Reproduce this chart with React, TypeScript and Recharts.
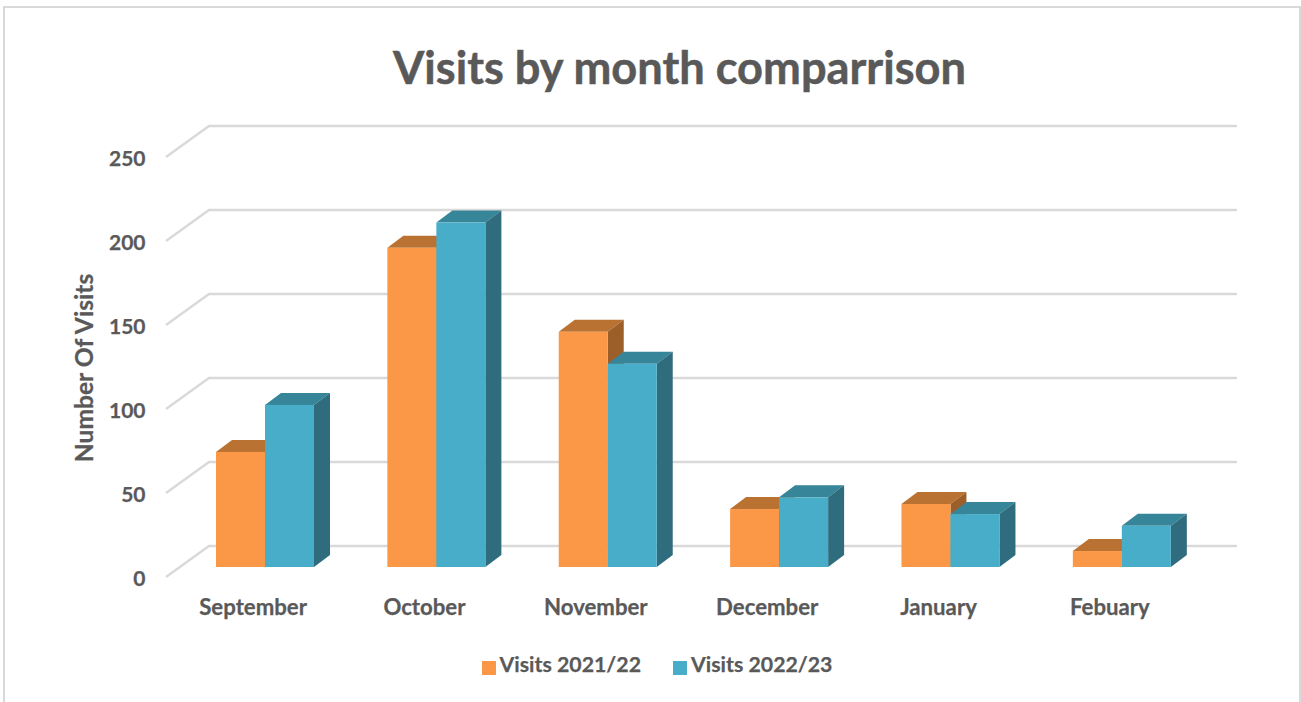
import React from "react";
import { BarChart, Bar, XAxis, YAxis, CartesianGrid, Legend } from "recharts";

const months = ["September", "October", "November", "December", "January", "Febuary"];
const visits2122 = [68.5, 190, 140, 34.5, 37.5, 9.5];
const visits2223 = [96.5, 205, 121, 41.5, 31.5, 24.5];
const yTicks = [0, 50, 100, 150, 200, 250];

const data = months.map((month, i) => ({
  month,
  "Visits 2021/22": visits2122[i],
  "Visits 2022/23": visits2223[i],
}));

const FONT = "Lato, 'Open Sans', sans-serif";
const TEXT = "#595959";
const DX = 16;
const DY = 12;

const makeBar = (front: string, top: string, side: string) => (p: any) => {
  const { x, y, width: w, height: h } = p;
  return (
    <g>
      <polygon points={`${x},${y} ${x + DX},${y - DY} ${x + w + DX},${y - DY} ${x + w},${y}`} fill={top} />
      <polygon points={`${x + w},${y} ${x + w + DX},${y - DY} ${x + w + DX},${y + h - DY} ${x + w},${y + h}`} fill={side} />
      <rect x={x} y={y} width={w} height={h} fill={front} />
    </g>
  );
};

const gridLine = (p: any) => {
  const y = p.y1;
  return (
    <polyline
      key={p.key ?? y}
      points={`166,${y + 10} 209,${y - 21} 1237,${y - 21}`}
      fill="none"
      stroke="#D9D9D9"
      strokeWidth={2.4}
    />
  );
};

const xTick = (p: any) => (
  <text x={p.x - 12} y={p.y} dy={40} textAnchor="middle" fontFamily={FONT} fontWeight={700} fontSize={22.2} fill={TEXT} stroke={TEXT} strokeWidth={0.25}>
    {p.payload.value}
  </text>
);

const yTick = (p: any) => (
  <text x={145.5} y={p.y} dy={19} textAnchor="end" fontFamily={FONT} fontWeight={700} fontSize={21} fill={TEXT} stroke={TEXT} strokeWidth={0.25}>
    {p.payload.value}
  </text>
);

const legendText = (value: string, _e: any, i: number) => (
  <span style={{ color: TEXT, fontFamily: FONT, fontWeight: 700, fontSize: 21.3, WebkitTextStroke: "0.25px #595959", marginRight: i === 0 ? 22 : 0 }}>{value}</span>
);

export default function App() {
  return (
    <div style={{ position: "fixed", left: 0, top: 0, width: 1301, height: 702, background: "#fff", overflow: "hidden" }}>
      <BarChart
        width={1301}
        height={702}
        data={data}
        margin={{ top: 147, right: 93.4, bottom: 95, left: 119.4 }}
        barCategoryGap={36.6}
        barGap={0}
      >
        <rect x={4} y={7} width={1296} height={700} fill="none" stroke="#D9D9D9" strokeWidth={2} />
        <text x={679.5} y={84} textAnchor="middle" fontFamily={FONT} fontWeight={700} fontSize={45.2} fill={TEXT} stroke={TEXT} strokeWidth={0.5}>
          Visits by month comparrison
        </text>
        <text
          transform="translate(93,368) rotate(-90)"
          textAnchor="middle"
          fontFamily={FONT}
          fontWeight={700}
          fontSize={24.6}
          fill={TEXT}
          stroke={TEXT}
          strokeWidth={0.25}
        >
          Number Of Visits
        </text>
        <CartesianGrid horizontal={gridLine} vertical={false} />
        <XAxis dataKey="month" axisLine={false} tickLine={false} height={40} tick={xTick} interval={0} />
        <YAxis domain={[0, 250]} ticks={yTicks} width={60} axisLine={false} tickLine={false} tick={yTick} />
        <Legend
          layout="horizontal"
          verticalAlign="middle"
          align="center"
          iconType="square"
          iconSize={14}
          formatter={legendText}
          wrapperStyle={{ position: "absolute", left: 0, width: 1324, top: 651, bottom: "auto" }}
        />
        <Bar dataKey="Visits 2021/22" fill="#FA9847" isAnimationActive={false} shape={makeBar("#FA9847", "#B97231", "#9C5F29")} />
        <Bar dataKey="Visits 2022/23" fill="#48ADC8" isAnimationActive={false} shape={makeBar("#48ADC8", "#378599", "#2F6C7E")} />
      </BarChart>
    </div>
  );
}
